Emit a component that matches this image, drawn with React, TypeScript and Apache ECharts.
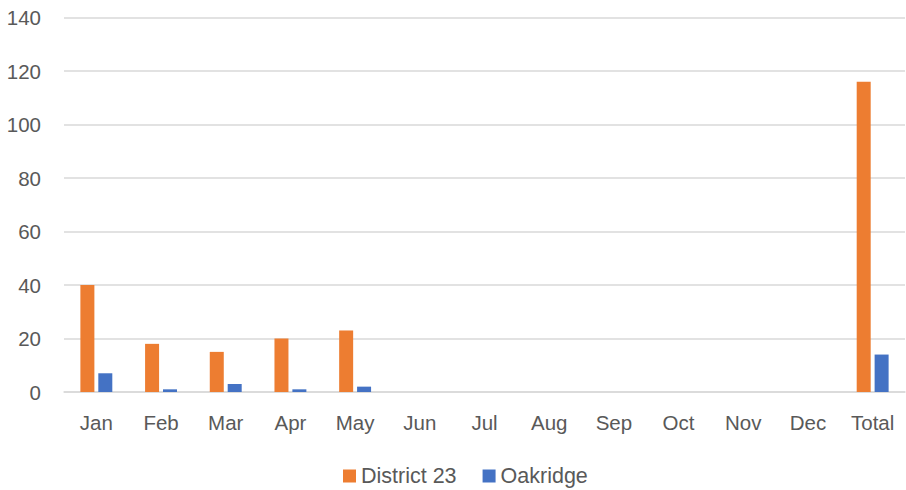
import React, { useEffect, useRef } from "react";
import * as echarts from "echarts";

const categories = ["Jan", "Feb", "Mar", "Apr", "May", "Jun", "Jul", "Aug", "Sep", "Oct", "Nov", "Dec", "Total"];
const district23 = [40, 18, 15, 20, 23, 0, 0, 0, 0, 0, 0, 0, 116];
const oakridge = [7, 1, 3, 1, 2, 0, 0, 0, 0, 0, 0, 0, 14];
const seriesNames = ["District 23", "Oakridge"];

export default function App() {
  const ref = useRef<HTMLDivElement>(null);
  useEffect(() => {
    if (!ref.current) return;
    const chart = echarts.init(ref.current, null, { renderer: "svg" });
    const font = "'Liberation Sans', Arial, sans-serif";
    chart.setOption({
      animation: false,
      textStyle: { fontFamily: font },
      grid: { left: 64, right: 1, top: 17.5, bottom: 98, containLabel: false },
      legend: {
        data: seriesNames,
        top: 460,
        left: 338,
        icon: "rect",
        itemWidth: 13,
        itemHeight: 13,
        itemGap: 26,
        textStyle: { color: "#595959", fontSize: 21.5, fontFamily: font },
      },
      xAxis: {
        type: "category",
        data: categories,
        axisLine: { show: true, lineStyle: { color: "#D9D9D9", width: 1.5 } },
        axisTick: { show: false },
        axisLabel: { color: "#595959", fontSize: 20.5, margin: 20, fontFamily: font },
      },
      yAxis: {
        type: "value",
        min: 0,
        max: 140,
        interval: 20,
        axisLine: { show: false },
        axisTick: { show: false },
        axisLabel: { color: "#595959", fontSize: 20.5, margin: 23, fontFamily: font },
        splitLine: { lineStyle: { color: "#D9D9D9", width: 1.5 } },
      },
      series: [
        {
          name: seriesNames[0],
          type: "bar",
          data: district23,
          barWidth: 14,
          barGap: "28%",
          itemStyle: { color: "#ED7D31" },
        },
        {
          name: seriesNames[1],
          type: "bar",
          data: oakridge,
          barWidth: 14,
          barGap: "28%",
          itemStyle: { color: "#4472C4" },
        },
      ],
    });
    return () => chart.dispose();
  }, []);
  return <div ref={ref} style={{ width: 906, height: 490, position: "absolute", left: 0, top: 0 }} />;
}
